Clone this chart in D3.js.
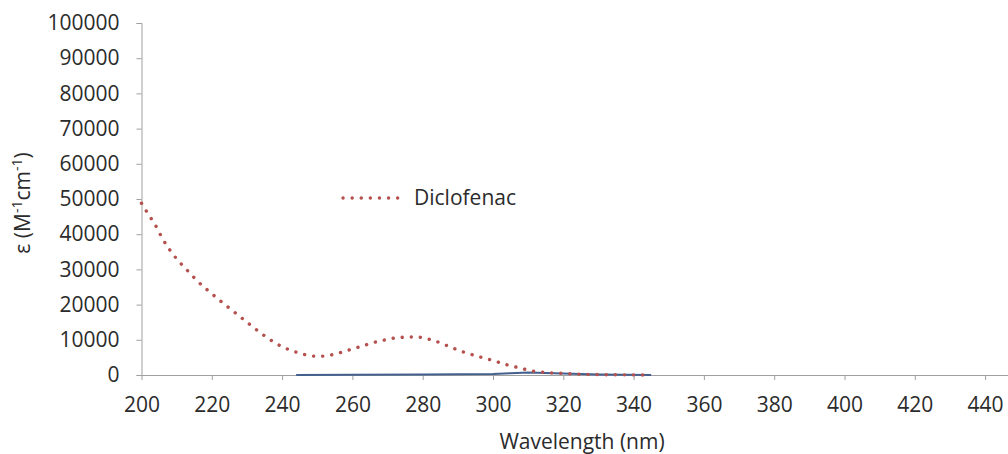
<!DOCTYPE html>
<html>
<head>
<meta charset="utf-8">
<script src="https://cdn.jsdelivr.net/npm/d3@7/dist/d3.min.js"></script>
<style>
  html, body { margin: 0; padding: 0; background: #fff; }
  svg { display: block; overflow: hidden; }
  text { font-family: "Open Sans", sans-serif; }
</style>
</head>
<body>
<svg id="chart" width="1008" height="454"></svg>
<script>
// Molar absorptivity of diclofenac versus wavelength
const wavelength = [200, 202, 204, 206, 208, 210, 212, 214, 216, 218, 220, 222, 224, 226, 228, 230,
  232, 234, 236, 238, 240, 242, 244, 246, 248, 250, 252, 254, 256, 258, 260, 262, 264, 266, 268,
  270, 272, 274, 276, 278, 280, 282, 284, 286, 288, 290, 292, 294, 296, 298, 300, 302, 304, 306,
  308, 310, 312, 314, 316, 318, 320, 322, 326, 330, 335, 340, 345];
const diclofenac = [48800, 45600, 42500, 38700, 35600, 33000, 30800, 28700, 26600, 24800, 23100,
  21400, 19800, 18200, 16600, 15000, 13400, 11900, 10400, 9200, 8000, 7200, 6500, 5900, 5500,
  5300, 5400, 5700, 6200, 6800, 7400, 8000, 8600, 9200, 9700, 10100, 10500, 10700, 10800, 10800,
  10600, 10100, 9500, 8700, 7900, 7100, 6400, 5800, 5200, 4700, 4100, 3500, 2900, 2400, 1900,
  1400, 1000, 800, 650, 550, 450, 350, 200, 120, 60, 30, 10];
// Second trace lying along the baseline
const baselineWl = [244, 260, 280, 300, 305, 310, 315, 320, 325, 330, 345];
const baselineVal = [0, 50, 150, 300, 500, 700, 600, 400, 250, 120, 0];

const yTicks = [0, 10000, 20000, 30000, 40000, 50000, 60000, 70000, 80000, 90000, 100000];
const xTicks = [200, 220, 240, 260, 280, 300, 320, 340, 360, 380, 400, 420, 440];

const svg = d3.select("#chart");
const plotLeft = 141.5, plotTop = 23, plotBottom = 375;
const fontSize = 21, textColor = "#2b2b2b", axisColor = "#a0a0a0";

const x = d3.scaleLinear().domain([200, 450]).range([plotLeft, plotLeft + 250 * 3.515]);
const y = d3.scaleLinear().domain([0, 100000]).range([plotBottom, plotTop]);

// Y axis
const yAxis = svg.append("g").attr("transform", `translate(${plotLeft},0)`)
  .call(d3.axisLeft(y).tickValues(yTicks).tickSize(5).tickPadding(17).tickFormat(d3.format("d")));
yAxis.select(".domain").attr("stroke", axisColor);
yAxis.selectAll(".tick line").attr("stroke", axisColor);
yAxis.selectAll(".tick text").attr("font-size", fontSize).attr("fill", textColor);

// X axis
const xAxis = svg.append("g").attr("transform", `translate(0,${plotBottom})`)
  .call(d3.axisBottom(x).tickValues(xTicks).tickSize(5).tickSizeOuter(0).tickPadding(17));
xAxis.select(".domain").attr("stroke", axisColor);
xAxis.selectAll(".tick line").attr("stroke", axisColor);
xAxis.selectAll(".tick text").attr("font-size", fontSize).attr("fill", textColor);

// Axis titles
svg.append("text")
  .attr("x", 582).attr("y", 449)
  .attr("text-anchor", "middle").attr("font-size", fontSize).attr("fill", textColor)
  .text("Wavelength (nm)");

const yt = svg.append("text")
  .attr("transform", "translate(30,203) rotate(-90)")
  .attr("text-anchor", "middle").attr("font-size", fontSize).attr("fill", textColor);
yt.append("tspan").text("ε (M");
yt.append("tspan").attr("font-size", 14).attr("dy", -8).text("-1");
yt.append("tspan").attr("dy", 8).text("cm");
yt.append("tspan").attr("font-size", 14).attr("dy", -8).text("-1");
yt.append("tspan").attr("dy", 8).text(")");

// Baseline trace
const lineB = d3.line().x((d, i) => x(baselineWl[i])).y(d => y(d));
svg.append("path").datum(baselineVal)
  .attr("d", lineB).attr("fill", "none")
  .attr("stroke", "#43608f").attr("stroke-width", 2);

// Diclofenac dotted trace
const line = d3.line().x((d, i) => x(wavelength[i])).y(d => y(d)).curve(d3.curveMonotoneX);
svg.append("path").datum(diclofenac)
  .attr("d", line).attr("fill", "none")
  .attr("stroke", "#b4504e").attr("stroke-width", 3.4)
  .attr("stroke-linecap", "round").attr("stroke-dasharray", "0.1 9");

// Legend
svg.append("line")
  .attr("x1", 343).attr("x2", 404).attr("y1", 198).attr("y2", 198)
  .attr("stroke", "#b4504e").attr("stroke-width", 3.4)
  .attr("stroke-linecap", "round").attr("stroke-dasharray", "0.1 9");
svg.append("text")
  .attr("x", 414).attr("y", 198).attr("dy", "0.35em")
  .attr("font-size", fontSize).attr("fill", textColor)
  .text("Diclofenac");
</script>
</body>
</html>
